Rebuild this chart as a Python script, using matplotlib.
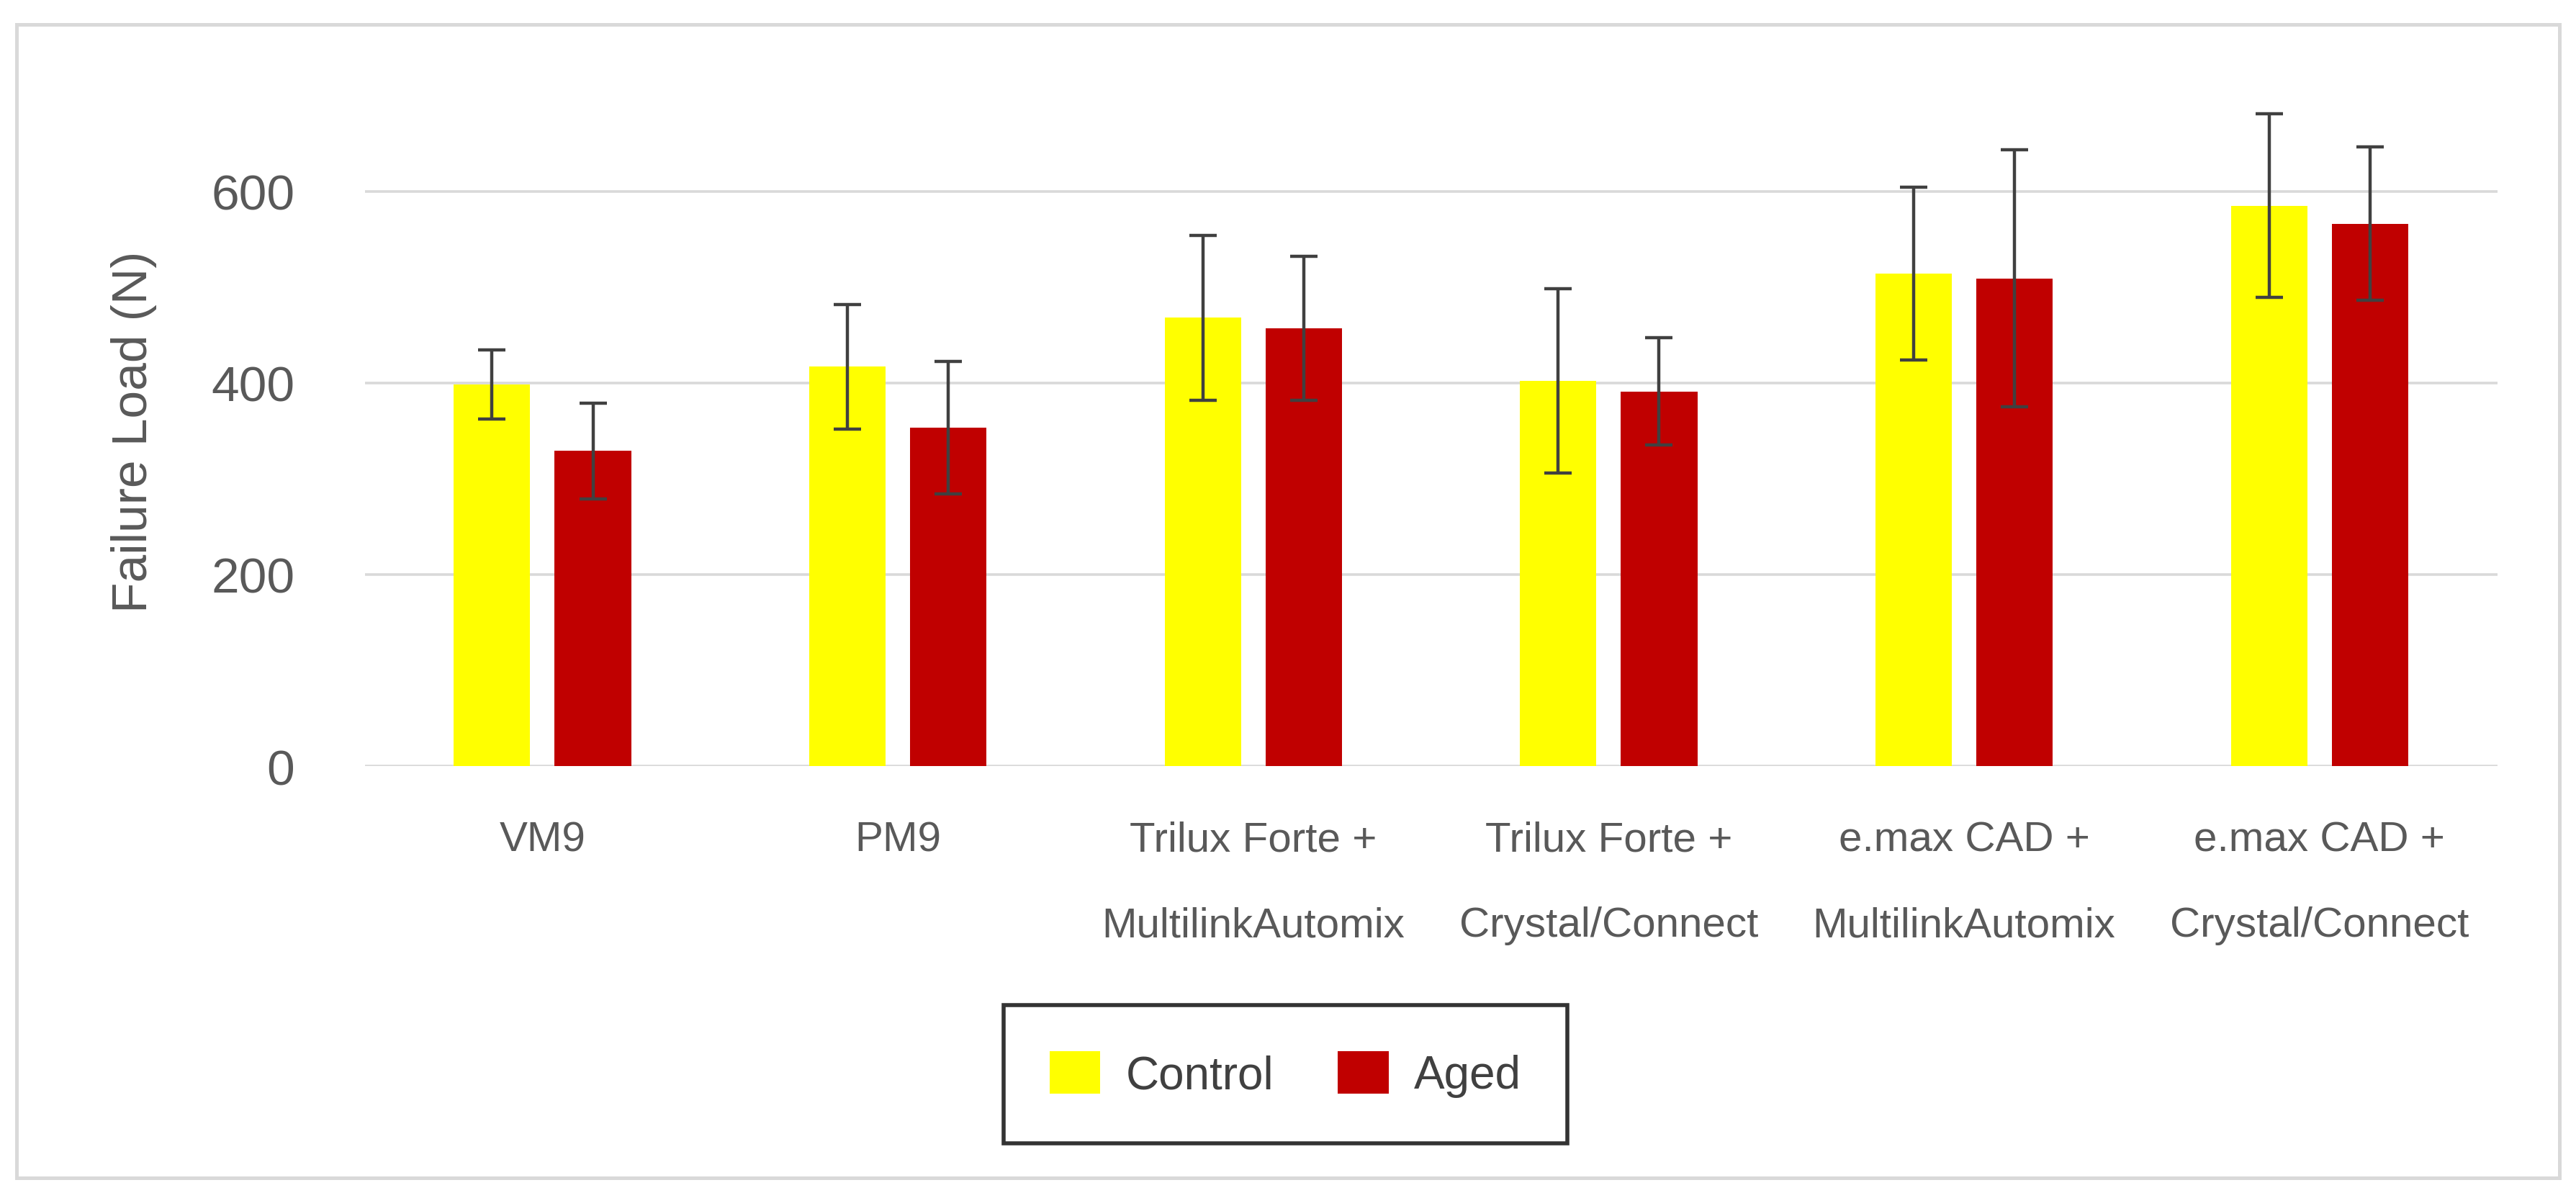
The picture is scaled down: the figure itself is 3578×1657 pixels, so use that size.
import matplotlib
matplotlib.use("Agg")
import matplotlib.pyplot as plt
from matplotlib.patches import Rectangle
import numpy as np

plt.rcParams['font.family'] = ['Liberation Sans', 'DejaVu Sans']

# Dados
categorias = ["VM9", "PM9", "Trilux Forte +\nMultilinkAutomix", "Trilux Forte +\nCrystal/Connect",
              "e.max CAD +\nMultilinkAutomix", "e.max CAD +\nCrystal/Connect"]
controle = [398, 417, 468, 402, 514, 585]
controle_dp = [36, 65, 86, 96, 90, 96]
envelhecido = [329, 353, 457, 391, 509, 566]
envelhecido_dp = [50, 69, 75, 56, 134, 80]
series = ["Control", "Aged"]
yticks = [0, 200, 400, 600]

cinza_texto = "#595959"
cinza_grade = "#d9d9d9"

fig = plt.figure(figsize=(17.89, 8.29), dpi=200)
ax = fig.add_axes([0.1416, 0.3576, 0.9694 - 0.1416, 0.9195 - 0.3576])

x = np.arange(len(categorias))
largura = 0.215
desloc = 0.142
erro_kw = dict(ecolor="#404040", elinewidth=1.6, capthick=1.6)

ax.bar(x - desloc, controle, largura, color="#FFFF00", label=series[0],
       yerr=controle_dp, capsize=6.8, error_kw=erro_kw, zorder=2)
ax.bar(x + desloc, envelhecido, largura, color="#C00000", label=series[1],
       yerr=envelhecido_dp, capsize=6.8, error_kw=erro_kw, zorder=2)

ax.set_xlim(-0.5, len(categorias) - 0.5)
ax.set_ylim(0, 700)
ax.set_yticks(yticks)
ax.set_xticks(x)
ax.set_xticklabels(categorias, fontsize=21, color=cinza_texto, linespacing=2.55)
ax.tick_params(axis="y", labelsize=25, labelcolor=cinza_texto, length=0, pad=35)
ax.tick_params(axis="x", length=0, pad=27)
ax.yaxis.grid(True, color=cinza_grade, linewidth=1.3, zorder=0)
ax.set_axisbelow(True)
for s in ax.spines.values():
    s.set_visible(False)

fig.text(0.052, 0.638, "Failure Load (N)", rotation=90, ha="center", va="center",
         fontsize=25, color=cinza_texto)

leg = ax.legend(loc="center", bbox_to_anchor=(0.499, 0.0995), bbox_transform=fig.transFigure,
                ncol=2, fontsize=23, frameon=True, fancybox=False, borderpad=1.0,
                handlelength=1.1, handleheight=1.05, handletextpad=0.55, columnspacing=1.4)
leg.get_frame().set_edgecolor("black")
leg.get_frame().set_linewidth(2.0)
for t in leg.get_texts():
    t.set_color("#404040")

# Moldura externa
fig.patches.append(Rectangle((0.0064, 0.0124), 0.9872, 0.9666, transform=fig.transFigure,
                             fill=False, edgecolor=cinza_grade, linewidth=1.8))

fig.savefig("out.png", dpi=200, facecolor="white")
